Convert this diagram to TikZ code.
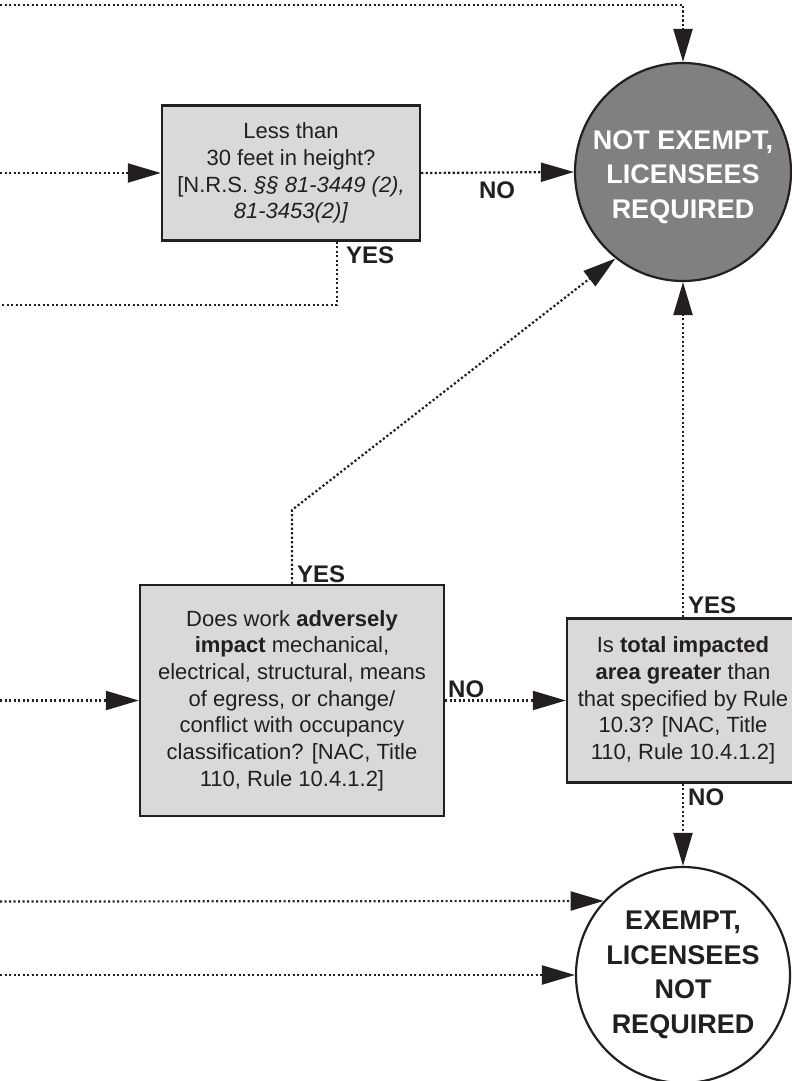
\documentclass[tikz,border=0pt]{standalone}
\usepackage{fontspec}
\setmainfont{Liberation Sans}
\usepackage{tikz}
\usetikzlibrary{arrows.meta,shapes.geometric}
\definecolor{boxgray}{HTML}{D9D8DA}
\definecolor{outgray}{HTML}{808080}
\definecolor{ink}{HTML}{231F20}

\begin{document}
\begin{tikzpicture}[x=1pt,y=-1pt,
    qbox/.style={draw=ink,line width=2.4pt,fill=boxgray,text=ink,align=center,inner sep=0pt,
      font=\fontsize{22}{26.7}\selectfont},
    result/.style={draw=ink,line width=2.2pt,ellipse,inner sep=0pt},
    resulttext/.style={align=center,inner sep=0pt,font=\fontsize{27}{34.5}\selectfont\bfseries},
    flow/.style={draw=ink,line width=2.2pt,dash pattern=on 2.2pt off 2.3pt,
      -{Triangle[length=33pt,width=19pt]}},
    lbl/.style={text=ink,inner sep=0pt,font=\fontsize{24}{26}\selectfont\bfseries}]
    \useasboundingbox (0,0) rectangle (792,1081);

    \node (notex) at (683,172) [result,fill=outgray,minimum width=216pt,minimum height=218pt] {};
    \node (notext) at (683,177) [resulttext,text=white] {NOT EXEMPT,\\LICENSEES\\REQUIRED};

    \node (ex) at (683,975) [result,fill=white,minimum width=214pt,minimum height=216pt] {};
    \node (extext) at (683,975) [resulttext,text=ink] {EXEMPT,\\LICENSEES\\NOT\\REQUIRED};

    \node (q1) at (291,173) [qbox,minimum width=258pt,minimum height=135pt]
      {Less than\\30 feet in height?\\{}[N.R.S. \textit{§§ 81-3449 (2),}\\\textit{81-3453(2)]}};
    \node (q2) at (292,700.5) [qbox,minimum width=304pt,minimum height=231pt]
      {Does work \textbf{adversely}\\\textbf{impact} mechanical,\\electrical, structural, means\\of egress, or change/\\conflict with occupancy\\classification? [NAC, Title\\110, Rule 10.4.1.2]};
    \node (q3) at (683,700.5) [qbox,minimum width=232pt,minimum height=164pt]
      {Is \textbf{total impacted}\\\textbf{area greater} than\\that specified by Rule\\10.3? [NAC, Title\\110, Rule 10.4.1.2]};

    \coordinate (in0) at (0,5);
    \coordinate (in1) at (0,173);
    \coordinate (out1) at (0,305);
    \coordinate (in2) at (0,700.5);
    \coordinate (in3) at (0,901.5);
    \coordinate (in4) at (0,975);
    \coordinate (bend) at (292,510);

    \draw[flow] (in0) -| (notex.north);
    \draw[flow] (in1) -- (q1.west);
    \draw[flow] (q1.east) -- (notex.west);
    \draw[flow,-] ([xshift=46pt]q1.south) |- (out1);
    \draw[flow] (in2) -- (q2.west);
    \draw[flow] (q2.north) -- (bend) -- (notex.232);
    \draw[flow] (q2.east) -- (q3.west);
    \draw[flow] (q3.north) -- (notex.south);
    \draw[flow] (q3.south) -- (ex.north);
    \draw[flow] (in3) -- (ex.137);
    \draw[flow] (in4) -- (ex.west);

    \node (no1) at (497,190) [lbl] {NO};
    \node (yes1) at (346,255) [lbl,anchor=west] {YES};
    \node (yes2) at (297,574) [lbl,anchor=west] {YES};
    \node (no2) at (448,689) [lbl,anchor=west] {NO};
    \node (yes3) at (688,605) [lbl,anchor=west] {YES};
    \node (no3) at (688,797) [lbl,anchor=west] {NO};
\end{tikzpicture}
\end{document}
